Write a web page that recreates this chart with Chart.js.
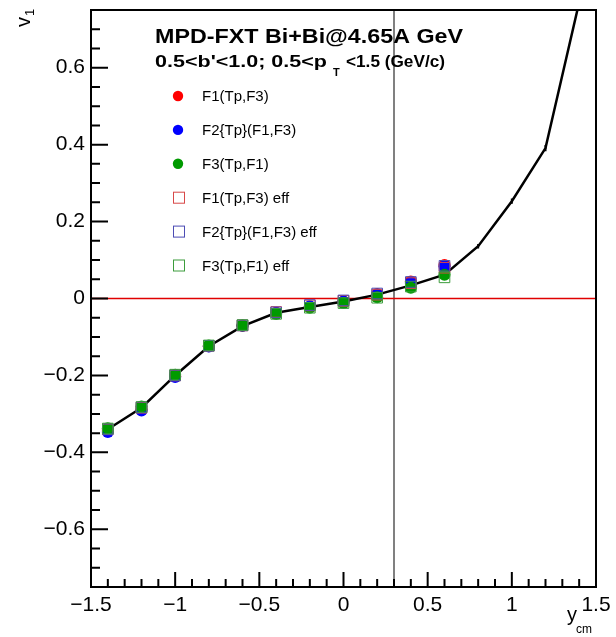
<!DOCTYPE html>
<html lang="en">
<head>
<meta charset="UTF-8">
<title>v1 vs rapidity</title>
<script src="https://cdn.jsdelivr.net/npm/chart.js"></script>
<style>
  html, body { margin: 0; padding: 0; background: #fff; }
</style>
</head>
<body>
<canvas id="v1Chart" width="616" height="637"></canvas>
<script>
// rapidity bins of the measured points
const yBins = [-1.4, -1.2, -1.0, -0.8, -0.6, -0.4, -0.2, 0.0, 0.2, 0.4, 0.6];

// v1 for each method
const f1 = [-0.342, -0.288, -0.202, -0.124, -0.071, -0.037, -0.022, -0.008, 0.012, 0.044, 0.087];
const f2 = [-0.347, -0.291, -0.204, -0.125, -0.071, -0.038, -0.020, -0.008, 0.010, 0.040, 0.084];
const f3 = [-0.337, -0.281, -0.198, -0.122, -0.070, -0.040, -0.024, -0.012, 0.003, 0.028, 0.062];
const f1Eff = [-0.340, -0.284, -0.200, -0.123, -0.070, -0.035, -0.018, -0.006, 0.010, 0.040, 0.080];
const f2Eff = [-0.340, -0.283, -0.200, -0.123, -0.070, -0.036, -0.017, -0.005, 0.013, 0.043, 0.085];
const f3Eff = [-0.338, -0.282, -0.198, -0.122, -0.069, -0.040, -0.024, -0.012, 0.002, 0.031, 0.055];

// model curve (black line with small error bars)
const curveX = [-1.4, -1.2, -1.0, -0.8, -0.6, -0.4, -0.2, 0.0, 0.2, 0.4, 0.6, 0.8, 1.0, 1.2, 1.4];
const curveY = [-0.340, -0.284, -0.200, -0.124, -0.072, -0.037, -0.022, -0.008, 0.010, 0.034, 0.062, 0.136, 0.253, 0.391, 0.770];
const curveErr = [0.006, 0.005, 0.005, 0.004, 0.004, 0.004, 0.004, 0.004, 0.004, 0.004, 0.005, 0.006, 0.007, 0.008, 0.010];

const seriesLabels = ['F1(Tp,F3)', 'F2{Tp}(F1,F3)', 'F3(Tp,F1)', 'F1(Tp,F3) eff', 'F2{Tp}(F1,F3) eff', 'F3(Tp,F1) eff'];
const xTicks = [-1.5, -1, -0.5, 0, 0.5, 1, 1.5];
const yTicks = [-0.6, -0.4, -0.2, 0, 0.2, 0.4, 0.6];
const xRange = [-1.5, 1.5];
const yRange = [-0.75, 0.75];
const cutY = 0.3; // vertical grey line

const FONT = '"Liberation Sans", Helvetica, Arial, sans-serif';
const fmt = v => (v < 0 ? '\u2212' : '') + String(Math.abs(Math.round(v * 100) / 100));
const pts = arr => yBins.map((x, i) => ({ x: x, y: arr[i] }));

const circleColors = ['#ff0000', '#0000ff', '#009a00'];
const squareColors = ['#d84848', '#4c4cb4', '#3c9c3c'];

const datasets = [
  { label: seriesLabels[0], data: pts(f1), pointStyle: 'circle', pointRadius: 6, backgroundColor: circleColors[0], borderWidth: 0, order: 6, marker: 'circle' },
  { label: seriesLabels[1], data: pts(f2), pointStyle: 'circle', pointRadius: 6, backgroundColor: circleColors[1], borderWidth: 0, order: 5, marker: 'circle' },
  { label: seriesLabels[2], data: pts(f3), pointStyle: 'circle', pointRadius: 6, backgroundColor: circleColors[2], borderWidth: 0, order: 4, marker: 'circle' },
  { label: seriesLabels[3], data: pts(f1Eff), pointStyle: 'rect', pointRadius: 7.5, backgroundColor: 'rgba(0,0,0,0)', borderColor: squareColors[0], borderWidth: 1, order: 3, marker: 'square' },
  { label: seriesLabels[4], data: pts(f2Eff), pointStyle: 'rect', pointRadius: 7.5, backgroundColor: 'rgba(0,0,0,0)', borderColor: squareColors[1], borderWidth: 1, order: 2, marker: 'square' },
  { label: seriesLabels[5], data: pts(f3Eff), pointStyle: 'rect', pointRadius: 7.5, backgroundColor: 'rgba(0,0,0,0)', borderColor: squareColors[2], borderWidth: 1, order: 1, marker: 'square' },
  { label: 'curve', data: curveX.map((x, i) => ({ x: x, y: curveY[i] })), showLine: true, borderColor: '#000', borderWidth: 2.5, pointRadius: 0, order: 7 },
  { label: 'zero', data: [{ x: xRange[0], y: 0 }, { x: xRange[1], y: 0 }], showLine: true, borderColor: '#e00000', borderWidth: 1.3, pointRadius: 0, order: 8 },
  { label: 'cut', data: [{ x: cutY, y: yRange[0] }, { x: cutY, y: yRange[1] }], showLine: true, borderColor: '#808080', borderWidth: 2, pointRadius: 0, order: 9 }
];

// error bars of the curve, under the markers
const curveErrors = {
  id: 'curveErrors',
  beforeDatasetsDraw(chart) {
    const { ctx, chartArea: a, scales: { x, y } } = chart;
    ctx.save();
    ctx.strokeStyle = '#000';
    ctx.lineWidth = 2;
    ctx.beginPath();
    curveX.forEach((cx, i) => {
      const px = x.getPixelForValue(cx);
      if (px < a.left || px > a.right) return;
      const y1 = Math.max(a.top, y.getPixelForValue(curveY[i] + curveErr[i]));
      const y2 = Math.min(a.bottom, y.getPixelForValue(curveY[i] - curveErr[i]));
      if (y1 >= y2) return;
      ctx.moveTo(px, y1); ctx.lineTo(px, y2);
    });
    ctx.stroke();
    ctx.restore();
  }
};

// ROOT-like frame with ticks pointing inwards
const rootFrame = {
  id: 'rootFrame',
  afterDatasetsDraw(chart) {
    const { ctx, chartArea: a, scales: { x, y } } = chart;
    ctx.save();
    ctx.strokeStyle = '#000';
    ctx.lineWidth = 2;
    ctx.beginPath();
    for (let i = -14; i <= 14; i++) {
      const px = x.getPixelForValue(i / 10);
      const len = i % 5 === 0 ? 15 : 8;
      ctx.moveTo(px, a.bottom); ctx.lineTo(px, a.bottom - len);
    }
    for (let i = -14; i <= 14; i++) {
      const py = y.getPixelForValue(i * 0.05);
      const len = i % 4 === 0 ? 17 : 9;
      ctx.moveTo(a.left, py); ctx.lineTo(a.left + len, py);
    }
    ctx.stroke();
    ctx.strokeRect(a.left, a.top, a.width, a.height);
    ctx.restore();
  }
};

// draw text stretched horizontally to a given width (ROOT fonts run wider)
function wideText(ctx, str, x, y, w) {
  const sx = w / ctx.measureText(str).width;
  ctx.save();
  ctx.translate(x, y);
  ctx.scale(sx, 1);
  ctx.fillText(str, 0, 0);
  ctx.restore();
}

// texts: header, legend, axis titles
const rootTexts = {
  id: 'rootTexts',
  afterDraw(chart) {
    const ctx = chart.ctx;
    ctx.save();
    ctx.fillStyle = '#000';
    ctx.textBaseline = 'alphabetic';
    ctx.textAlign = 'left';

    ctx.font = 'bold 21px ' + FONT;
    wideText(ctx, 'MPD-FXT Bi+Bi@4.65A GeV', 155, 43, 308);

    ctx.font = 'bold 17px ' + FONT;
    wideText(ctx, "0.5<b'<1.0; 0.5<p", 155, 67, 172);
    ctx.font = 'bold 11px ' + FONT;
    ctx.fillText('T', 333, 76);
    ctx.font = 'bold 17px ' + FONT;
    wideText(ctx, '<1.5 (GeV/c)', 346, 67, 99);

    // legend
    const ds = chart.data.datasets.filter(d => d.marker);
    ctx.font = '15px ' + FONT;
    ds.forEach((d, i) => {
      const ly = 96 + i * 33.9;
      if (d.marker === 'circle') {
        ctx.fillStyle = d.backgroundColor;
        ctx.beginPath();
        ctx.arc(178, ly, 5.2, 0, Math.PI * 2);
        ctx.fill();
      } else {
        ctx.strokeStyle = d.borderColor;
        ctx.lineWidth = 1;
        ctx.strokeRect(173.5, ly - 5.5, 11, 11);
      }
      ctx.fillStyle = '#000';
      ctx.textBaseline = 'middle';
      ctx.fillText(d.label, 202, ly + 1);
    });

    // x title
    ctx.textBaseline = 'alphabetic';
    ctx.font = '20px ' + FONT;
    ctx.fillText('y', 567, 621);
    ctx.font = '12px ' + FONT;
    ctx.fillText('cm', 576, 633);

    // y title (rotated)
    ctx.save();
    ctx.translate(30, 27);
    ctx.rotate(-Math.PI / 2);
    ctx.font = '20px ' + FONT;
    ctx.fillText('v', 0, 0);
    ctx.font = '13px ' + FONT;
    ctx.fillText('1', 11, 4);
    ctx.restore();

    ctx.restore();
  }
};

new Chart(document.getElementById('v1Chart'), {
  type: 'scatter',
  data: { datasets: datasets },
  options: {
    responsive: false,
    animation: false,
    layout: { padding: { left: 0, right: 20, top: 10, bottom: 0 } },
    plugins: { legend: { display: false }, tooltip: { enabled: false } },
    scales: {
      x: {
        type: 'linear', min: xRange[0], max: xRange[1],
        grid: { display: false, drawTicks: false },
        border: { display: false },
        afterBuildTicks: s => { s.ticks = xTicks.map(v => ({ value: v })); },
        afterFit: s => { s.height = 50; s.paddingLeft = 0; s.paddingRight = 0; },
        ticks: { color: '#000', padding: 6, maxRotation: 0, font: { family: FONT, size: 21 }, callback: v => fmt(v) }
      },
      y: {
        type: 'linear', min: yRange[0], max: yRange[1],
        grid: { display: false, drawTicks: false },
        border: { display: false },
        afterBuildTicks: s => { s.ticks = yTicks.map(v => ({ value: v })); },
        afterFit: s => { s.width = 91; s.paddingTop = 0; s.paddingBottom = 0; },
        ticks: { color: '#000', padding: 6, font: { family: FONT, size: 21 }, callback: v => fmt(v) }
      }
    }
  },
  plugins: [curveErrors, rootFrame, rootTexts]
});
</script>
</body>
</html>
